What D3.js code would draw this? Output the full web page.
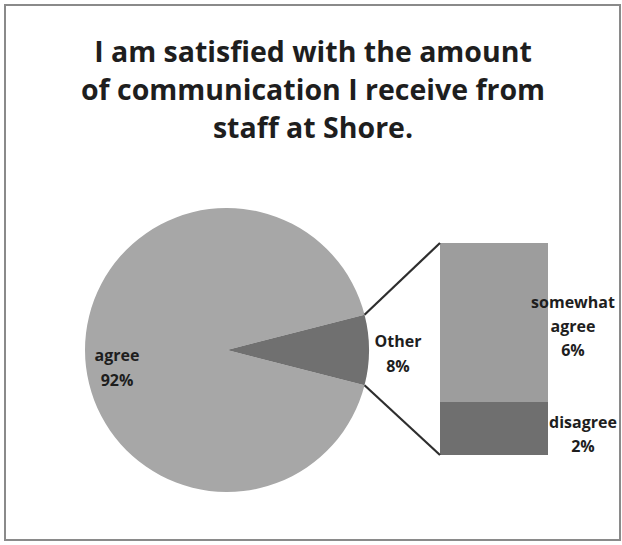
<!DOCTYPE html>
<html>
<head>
<meta charset="utf-8">
<script src="https://cdn.jsdelivr.net/npm/d3@7"></script>
<style>
  html, body { margin: 0; padding: 0; background: #fff; }
  svg { display: block; }
  text { font-family: "Open Sans", Lato, sans-serif; font-weight: 700; fill: #1e1e1e; }
</style>
</head>
<body>
<svg id="chart" width="622" height="545"></svg>
<script>
// Survey responses: main pie and the "Other" breakdown bar
const titleLines = ["I am satisfied with the amount", "of communication I receive from", "staff at Shore."];
const pieLabels = ["agree", "Other"];
const pieValues = [92, 8];
const otherLabels = ["somewhat agree", "disagree"];
const otherValues = [6, 2];

const svg = d3.select("#chart");

// Chart frame
svg.append("rect")
  .attr("x", 5).attr("y", 5).attr("width", 615).attr("height", 535)
  .attr("fill", "#fff").attr("stroke", "#8a8a8a").attr("stroke-width", 2);

// Title
svg.append("g").selectAll("text").data(titleLines).join("text")
  .attr("x", 313).attr("y", (d, i) => 62 + i * 38)
  .attr("text-anchor", "middle")
  .attr("font-size", 28.5)
  .text(d => d);

// Pie of agree vs. other, with "Other" centred on the right-hand side
const cx = 227, cy = 350, r = 142;
const otherShare = pieValues[1] / d3.sum(pieValues);
const pie = d3.pie().sort(null).value(d => d)
  .startAngle(Math.PI / 2 + otherShare * Math.PI)
  .endAngle(Math.PI / 2 + otherShare * Math.PI + 2 * Math.PI);
const arcs = pie(pieValues);
const arc = d3.arc().innerRadius(0).outerRadius(r);
const pieColors = ["#a7a7a7", "#707070"];

const pg = svg.append("g").attr("transform", `translate(${cx},${cy})`);
pg.selectAll("path").data(arcs).join("path")
  .attr("d", arc)
  .attr("fill", (d, i) => pieColors[i]);

// Breakdown bar for "Other"
const barX = 440, barW = 108, barTop = 243, barBottom = 455;
const y = d3.scaleLinear().domain([0, d3.sum(otherValues)]).range([barTop, barBottom]);
const stackStarts = otherValues.map((v, i) => d3.sum(otherValues.slice(0, i)));
const barColors = ["#9d9d9d", "#6f6f6f"];
svg.append("g").selectAll("rect").data(otherValues).join("rect")
  .attr("x", barX).attr("width", barW)
  .attr("y", (d, i) => y(stackStarts[i]))
  .attr("height", d => y(d) - y(0))
  .attr("fill", (d, i) => barColors[i]);

// Connector lines from wedge edges to bar corners
const otherArc = arcs[1];
const edgePt = a => [cx + r * Math.sin(a), cy - r * Math.cos(a)];
const topEdge = edgePt(otherArc.startAngle);
const botEdge = edgePt(otherArc.endAngle);
const conn = svg.append("g").attr("stroke", "#2e2e2e").attr("stroke-width", 2.2);
conn.append("line").attr("x1", topEdge[0]).attr("y1", topEdge[1]).attr("x2", barX).attr("y2", y(0));
conn.append("line").attr("x1", botEdge[0]).attr("y1", botEdge[1]).attr("x2", barX).attr("y2", y(d3.sum(otherValues)));

// Labels
function multiLine(g, x, yTop, lines, size, gap) {
  const t = g.append("text").attr("text-anchor", "middle").attr("font-size", size);
  lines.forEach((s, i) => t.append("tspan").attr("x", x).attr("y", yTop + i * gap).text(s));
}
const lg = svg.append("g");
multiLine(lg, 117, 361, [pieLabels[0], pieValues[0] + "%"], 16, 25);
multiLine(lg, 398, 347, [pieLabels[1], pieValues[1] + "%"], 16, 25);
multiLine(lg, 573, 308, ["somewhat", "agree", otherValues[0] + "%"], 16, 24);
multiLine(lg, 583, 428, [otherLabels[1], otherValues[1] + "%"], 16, 24);
</script>
</body>
</html>
